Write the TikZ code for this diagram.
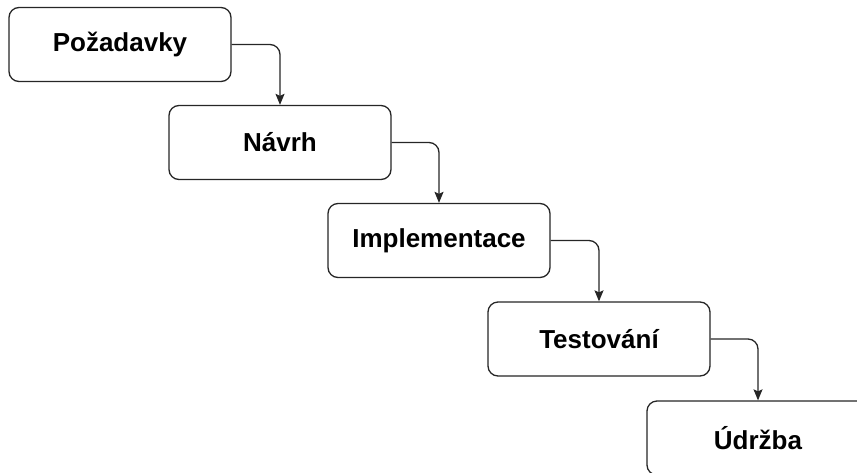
\documentclass[tikz,border=0pt]{standalone}
\usepackage{fontspec}
\setmainfont{Liberation Sans}
\usetikzlibrary{arrows.meta}
\begin{document}
\begin{tikzpicture}[x=1pt,y=-1pt,
  stepbox/.style={draw=black!85, line width=1.3pt, rounded corners=10pt, fill=white,
    minimum width=222pt, minimum height=74pt, inner sep=0pt,
    font=\fontsize{26}{30}\selectfont\bfseries},
  flow/.style={draw=black!85, line width=1.3pt, rounded corners=10pt,
    -{Stealth[length=11pt,width=9pt,inset=2pt]}}]
\useasboundingbox (0,0) rectangle (857,472);
\clip (0,0) rectangle (857,472);
\node[stepbox] (a) at (120,44.5) {Požadavky};
\node[stepbox] (b) at (280,142.5) {Návrh};
\node[stepbox] (c) at (439,240.5) {Implementace};
\node[stepbox] (d) at (599,339) {Testování};
\node[stepbox] (e) at (758,438) {Údržba};
\draw[flow] (a.east) -| (b.north);
\draw[flow] (b.east) -| (c.north);
\draw[flow] (c.east) -| (d.north);
\draw[flow] (d.east) -| (e.north);
\end{tikzpicture}
\end{document}
